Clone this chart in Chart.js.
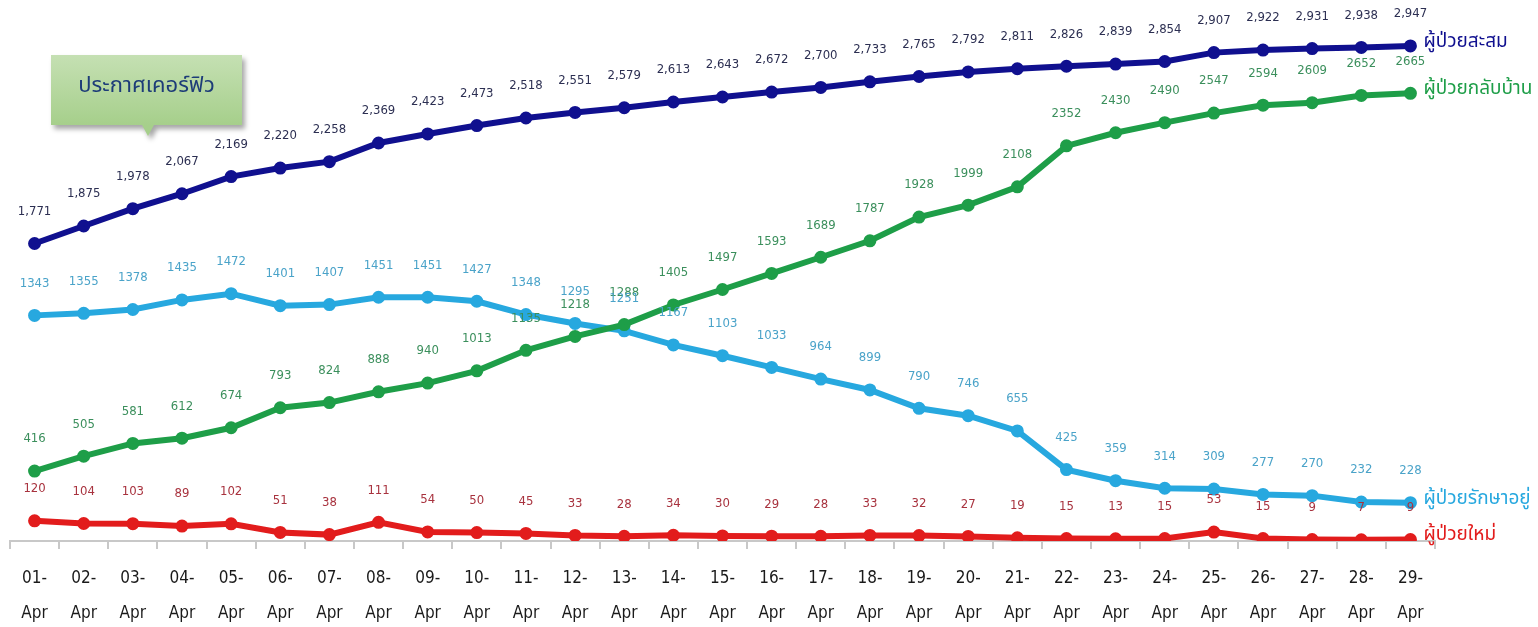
<!DOCTYPE html>
<html>
<head>
<meta charset="utf-8">
<script src="https://cdn.jsdelivr.net/npm/chart.js@4"></script>
<style>
  html, body { margin: 0; padding: 0; background: #fff; }
  #wrap { width: 1538px; height: 627px; }
</style>
</head>
<body>
<div id="wrap"><canvas id="myCanvasLineGraph"></canvas></div>
<script>
// data
var days = ['01','02','03','04','05','06','07','08','09','10','11','12','13','14','15',
            '16','17','18','19','20','21','22','23','24','25','26','27','28','29'];
var month = 'Apr';

var total = [1771,1875,1978,2067,2169,2220,2258,2369,2423,2473,2518,2551,2579,2613,2643,
             2672,2700,2733,2765,2792,2811,2826,2839,2854,2907,2922,2931,2938,2947];
var recovered = [416,505,581,612,674,793,824,888,940,1013,1135,1218,1288,1405,1497,
                 1593,1689,1787,1928,1999,2108,2352,2430,2490,2547,2594,2609,2652,2665];
var inHospital = [1343,1355,1378,1435,1472,1401,1407,1451,1451,1427,1348,1295,1251,1167,1103,
                  1033,964,899,790,746,655,425,359,314,309,277,270,232,228];
var newCases = [120,104,103,89,102,51,38,111,54,50,45,33,28,34,30,
                29,28,33,32,27,19,15,13,15,53,15,9,7,9];

var seriesNames = ['ผู้ป่วยสะสม','ผู้ป่วยกลับบ้าน','ผู้ป่วยรักษาอยู่','ผู้ป่วยใหม่'];
var calloutText = 'ประกาศเคอร์ฟิว';

var labels = [];
for (var i in days) {
	labels.push([days[i] + '-', month]);
}

var numFont = '"DejaVu Sans Condensed", "Liberation Sans Narrow", "DejaVu Sans", sans-serif';
var thaiFont = '"Noto Sans Thai", "Loma", "Tlwg Typo", "Noto Sans", sans-serif';

function makeSet(label, values, color, textColor, comma) {
	return {
		label: label,
		data: values,
		fill: false,
		tension: 0,
		borderColor: color,
		backgroundColor: color,
		pointBackgroundColor: color,
		pointBorderColor: color,
		borderWidth: 6,
		pointRadius: 3.5,
		textColor: textColor,
		comma: comma
	};
}

var chartdata = {
	labels: labels,
	datasets: [
		makeSet(seriesNames[1], recovered, '#1e9e48', '#3b8f5c', false),
		makeSet(seriesNames[2], inHospital, '#27a8df', '#4aa3c9', false),
		makeSet(seriesNames[3], newCases, '#e21c1c', '#a8323e', false),
		makeSet(seriesNames[0], total, '#10108f', '#2c2f52', true)
	]
};

// value labels above the points + series names at the right end
var labelPlugin = {
	id: 'pointLabels',
	afterDatasetsDraw: function(chart) {
		var ctx = chart.ctx;
		ctx.save();
		ctx.textAlign = 'center';
		ctx.textBaseline = 'middle';
		ctx.font = '13px ' + numFont;
		chart.data.datasets.forEach(function(ds, di) {
			var meta = chart.getDatasetMeta(di);
			ctx.fillStyle = ds.textColor;
			meta.data.forEach(function(pt, j) {
				var v = ds.data[j];
				var txt = ds.comma ? v.toLocaleString('en-US') : String(v);
				ctx.fillText(txt, pt.x, pt.y - 32);
			});
		});
		ctx.textAlign = 'left';
		ctx.font = '19px ' + thaiFont;
		chart.data.datasets.forEach(function(ds, di) {
			var meta = chart.getDatasetMeta(di);
			var last = meta.data[meta.data.length - 1];
			ctx.fillStyle = ds.borderColor;
			ctx.fillText(ds.label, last.x + 13, last.y - 3);
		});
		ctx.restore();
	}
};

// green speech box
var calloutPlugin = {
	id: 'callout',
	afterDraw: function(chart) {
		var ctx = chart.ctx;
		var x = 51, y = 55, w = 191, h = 70;
		ctx.save();
		ctx.shadowColor = 'rgba(0,0,0,0.35)';
		ctx.shadowOffsetX = 3;
		ctx.shadowOffsetY = 4;
		ctx.shadowBlur = 5;
		var g = ctx.createLinearGradient(0, y, 0, y + h);
		g.addColorStop(0, '#c5e0b3');
		g.addColorStop(1, '#a6cf8b');
		ctx.fillStyle = g;
		ctx.beginPath();
		ctx.moveTo(x, y);
		ctx.lineTo(x + w, y);
		ctx.lineTo(x + w, y + h);
		ctx.lineTo(154, y + h);
		ctx.lineTo(148, y + h + 11);
		ctx.lineTo(142, y + h);
		ctx.lineTo(x, y + h);
		ctx.closePath();
		ctx.fill();
		ctx.restore();
		ctx.save();
		ctx.fillStyle = '#1d3c78';
		ctx.font = '22px ' + thaiFont;
		ctx.textAlign = 'center';
		ctx.textBaseline = 'middle';
		ctx.fillText(calloutText, x + w / 2, y + h / 2 - 2);
		ctx.restore();
	}
};

var ctx = document.getElementById('myCanvasLineGraph');

var LineGraph = new Chart(ctx, {
	type: 'line',
	data: chartdata,
	plugins: [labelPlugin, calloutPlugin],
	options: {
		responsive: true,
		maintainAspectRatio: false,
		animation: false,
		layout: { padding: { left: 8, right: 103, top: 37, bottom: 0 } },
		plugins: {
			legend: { display: false },
			tooltip: { enabled: false }
		},
		scales: {
			y: {
				display: false,
				min: 0,
				max: 3000
			},
			x: {
				offset: true,
				afterFit: function(scale) { scale.height = 86; },
				border: { display: true, color: '#c8c8c8', width: 2 },
				grid: {
					offset: true,
					drawOnChartArea: false,
					drawTicks: true,
					tickLength: 8,
					color: '#c8c8c8',
					lineWidth: 2
				},
				ticks: {
					color: '#1a1a1a',
					maxRotation: 0,
					autoSkip: false,
					padding: 12,
					font: { size: 17, family: numFont, lineHeight: 2.05 }
				}
			}
		}
	}
});
</script>
</body>
</html>
